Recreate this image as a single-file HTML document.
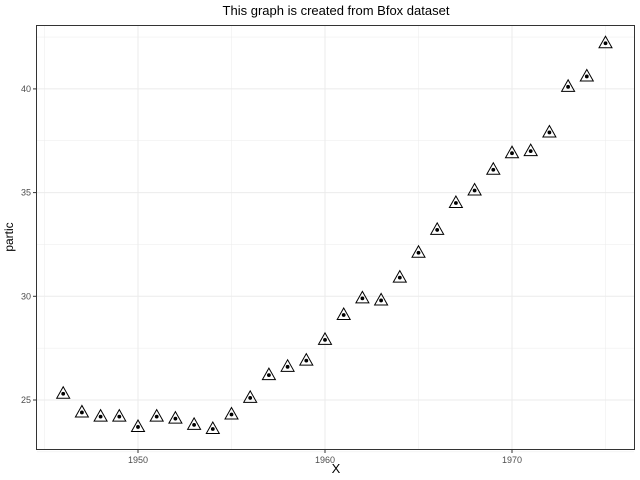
<!DOCTYPE html>
<html><head><meta charset="utf-8"><style>body{margin:0;background:#fff}svg{display:block;font-family:"Liberation Sans",sans-serif}</style></head>
<body>
<svg id="c" width="640" height="480">
<text x="336" y="15" text-anchor="middle" font-size="13" fill="#000">This graph is created from Bfox dataset</text>
<rect x="36.5" y="25.5" width="598" height="424" fill="#fff" stroke="#333"/>
<g id="grid"></g><g id="pts"></g><g id="axes"></g>
<text x="336" y="473" text-anchor="middle" font-size="13">X</text>
<text transform="translate(13,237) rotate(-90)" text-anchor="middle" font-size="12">partic</text>
</svg>
<script>
const years=[1946,1947,1948,1949,1950,1951,1952,1953,1954,1955,1956,1957,1958,1959,1960,1961,1962,1963,1964,1965,1966,1967,1968,1969,1970,1971,1972,1973,1974,1975];
const partic=[25.3,24.4,24.2,24.2,23.7,24.2,24.1,23.8,23.6,24.3,25.1,26.2,26.6,26.9,27.9,29.1,29.9,29.8,30.9,32.1,33.2,34.5,35.1,36.1,36.9,37.0,37.9,40.1,40.6,42.2];
const xTicks=[1950,1960,1970];
const yTicks=[25,30,35,40];
const ns="http://www.w3.org/2000/svg";
const X=v=>138+(v-1950)*18.7;
const Y=v=>400-(v-25)*20.74;
function mk(t,a,p){const e=document.createElementNS(ns,t);for(const k in a)e.setAttribute(k,a[k]);p.appendChild(e);return e;}
const G=document.getElementById('grid'),P=document.getElementById('pts'),A=document.getElementById('axes');
for(let v=1945;v<=1975;v+=5){const l=mk('line',{x1:X(v),x2:X(v),y1:26,y2:449,stroke:'#ebebeb','stroke-width':v%10?0.5:1},G);

}
for(let v=22.5;v<=42.5;v+=2.5){const l=mk('line',{x1:37,x2:634,y1:Y(v),y2:Y(v),stroke:'#ebebeb','stroke-width':v%5?0.5:1},G);

}
xTicks.forEach(v=>{mk('line',{x1:X(v),x2:X(v),y1:450,y2:453,stroke:'#333'},A);
const t=mk('text',{x:X(v),y:463,'text-anchor':'middle','font-size':9,fill:'#4d4d4d'},A);t.textContent=v;

});
yTicks.forEach(v=>{mk('line',{x1:33,x2:36,y1:Y(v),y2:Y(v),stroke:'#333'},A);
const t=mk('text',{x:31,y:Y(v)+3,'text-anchor':'end','font-size':9,fill:'#4d4d4d'},A);t.textContent=v;

});
years.forEach((yr,i)=>{const x=X(yr),y=Y(partic[i]);
const g=mk('g',{},P);


mk('polygon',{points:`${x},${y-7} ${x-6.5},${y+4.5} ${x+6.5},${y+4.5}`,fill:'none',stroke:'#000','stroke-width':1},g);
mk('circle',{cx:x,cy:y,r:1.9,fill:'#000'},g);});
</script>
</body></html>
